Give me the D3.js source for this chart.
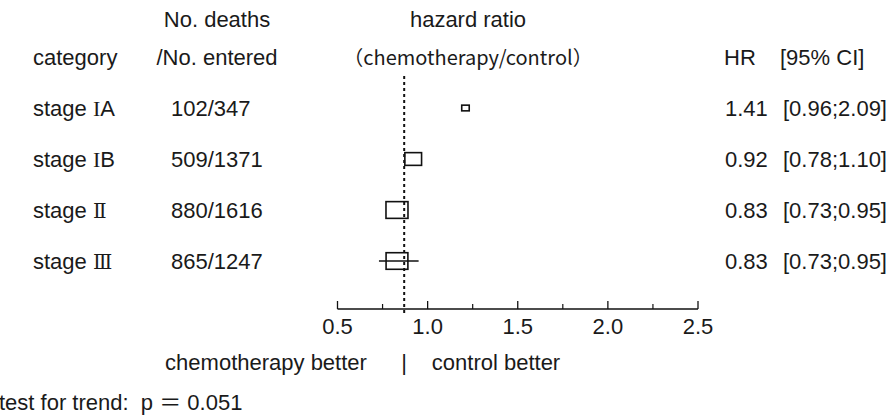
<!DOCTYPE html>
<html>
<head>
<meta charset="utf-8">
<script src="https://cdn.jsdelivr.net/npm/d3@7"></script>
<style>
  html, body { margin: 0; padding: 0; background: #fff; }
  svg { display: block; font-family: "Liberation Sans", Arial, sans-serif; }
  text { fill: #1a1a1a; font-size: 22px; white-space: pre; }
  .cjk { font-family: "Noto Sans CJK JP", "DejaVu Sans", sans-serif; }
  .serif { font-family: "Liberation Serif", "DejaVu Serif", serif; }
  .roman { font-family: "DejaVu Serif", "Liberation Serif", serif; font-size: 20px; }
</style>
</head>
<body>
<svg></svg>
<script>
// data
const stages = ["IA", "IB", "Ⅱ", "Ⅲ"];
const deaths = [102, 509, 880, 865];
const entered = [347, 1371, 1616, 1247];
const hr = [1.41, 0.92, 0.83, 0.83];
const ciLow = [0.96, 0.78, 0.73, 0.73];
const ciHigh = [2.09, 1.10, 0.95, 0.95];
// where the boxes sit on the drawn axis (IA is drawn off its printed value)
const hrDrawn = [1.21, 0.92, 0.83, 0.83];
const whiskerDrawn = [false, false, false, true];
const overallHR = 0.87;
const majorTicks = [0.5, 1.0, 1.5, 2.0, 2.5];
const minorTicks = [0.75, 1.25, 1.75, 2.25];
const pTrend = "0.051";

const width = 895, height = 418;
const svg = d3.select("svg").attr("width", width).attr("height", height);

const x = d3.scaleLinear().domain([0.5, 2.5]).range([337.5, 698]);
const y = d3.scalePoint().domain(stages).range([108, 261]);
const boxW = d3.scaleSqrt().domain([0, d3.max(deaths)]).range([0, 22]);
const axisY = 309;
const fmt = d3.format(".2f");

function label(px, py, str, anchor) {
    return svg.append("text").attr("x", px).attr("y", py)
        .attr("text-anchor", anchor || "start").text(str);
}

// headers
label(217, 27, "No. deaths", "middle");
label(217, 65, "/No. entered", "middle");
label(33, 65, "category");
label(468, 27, "hazard ratio", "middle");
label(468, 65, "（chemotherapy/control）", "middle").attr("class", "cjk").style("font-size", "20px");
label(724, 65, "HR");
label(780, 65, "[95% CI]");

// overall reference line
svg.append("line")
    .attr("x1", x(overallHR)).attr("x2", x(overallHR))
    .attr("y1", 76).attr("y2", axisY + 7)
    .attr("stroke", "#111").attr("stroke-width", 2)
    .attr("stroke-dasharray", "3,3");

// rows
const rows = svg.selectAll(".row")
    .data(stages.map((s, i) => ({ s, i })))
    .enter().append("g").attr("class", "row");

rows.append("text").attr("x", 33).attr("y", d => y(d.s) + 8)
    .each(function (d) {
        const t = d3.select(this);
        t.append("tspan").text("stage ");
        for (const ch of d.s) {
            if (ch === "I") t.append("tspan").attr("class", "serif").text(ch);
            else if (ch === "Ⅱ" || ch === "Ⅲ") t.append("tspan").attr("class", "roman").text(ch);
            else t.append("tspan").text(ch);
        }
    });

rows.append("text").attr("x", 171).attr("y", d => y(d.s) + 8)
    .text(d => deaths[d.i] + "/" + entered[d.i]);

rows.append("text").attr("x", 725).attr("y", d => y(d.s) + 8)
    .text(d => fmt(hr[d.i]));
rows.append("text").attr("x", 783).attr("y", d => y(d.s) + 8)
    .text(d => "[" + fmt(ciLow[d.i]) + ";" + fmt(ciHigh[d.i]) + "]");

rows.filter(d => whiskerDrawn[d.i]).append("line")
    .attr("x1", d => x(ciLow[d.i])).attr("x2", d => x(ciHigh[d.i]))
    .attr("y1", d => y(d.s)).attr("y2", d => y(d.s))
    .attr("stroke", "#111").attr("stroke-width", 1.3);

rows.append("rect")
    .attr("x", d => x(hrDrawn[d.i]) - boxW(deaths[d.i]) / 2)
    .attr("y", d => y(d.s) - boxW(deaths[d.i]) * 0.38)
    .attr("width", d => boxW(deaths[d.i]))
    .attr("height", d => boxW(deaths[d.i]) * 0.76)
    .attr("fill", "none").attr("stroke", "#111").attr("stroke-width", 1.6);

// axis
const axis = svg.append("g").attr("transform", `translate(0,${axisY})`);
axis.append("line").attr("x1", x(0.5)).attr("x2", x(2.5))
    .attr("stroke", "#111").attr("stroke-width", 1.3);
axis.selectAll(".major").data(majorTicks).enter().append("line")
    .attr("x1", d => x(d)).attr("x2", d => x(d)).attr("y1", 0).attr("y2", -8)
    .attr("stroke", "#111").attr("stroke-width", 1.3);
axis.selectAll(".minor").data(minorTicks).enter().append("line")
    .attr("x1", d => x(d)).attr("x2", d => x(d)).attr("y1", 0).attr("y2", -5)
    .attr("stroke", "#111").attr("stroke-width", 1.2);
axis.selectAll(".lbl").data(majorTicks).enter().append("text")
    .attr("x", d => x(d)).attr("y", 25).attr("text-anchor", "middle")
    .text(d => d.toFixed(1));

// footer
label(266, 370, "chemotherapy better", "middle");
label(404, 370, "|", "middle");
label(496, 370, "control better", "middle");
const trend = label(-1, 410, "");
trend.append("tspan").text("test for trend:  p ");
trend.append("tspan").attr("class", "cjk").text("＝");
trend.append("tspan").text(" " + pTrend);
</script>
</body>
</html>
